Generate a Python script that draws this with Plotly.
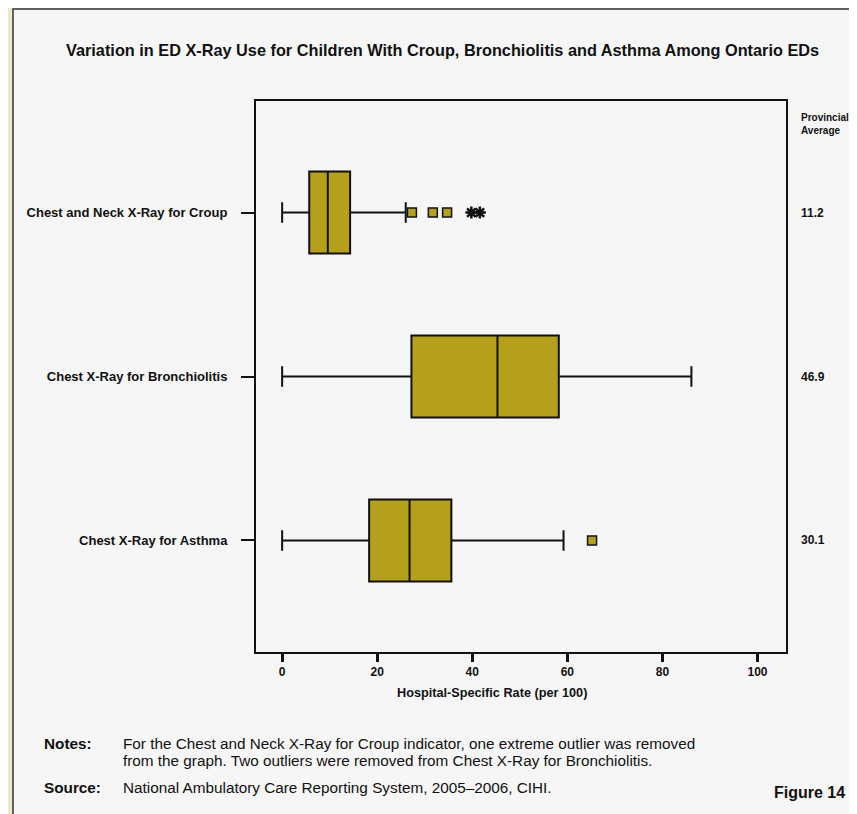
import plotly.graph_objects as go

# ---------------- data ----------------
categories = ["Chest and Neck X-Ray for Croup", "Chest X-Ray for Bronchiolitis", "Chest X-Ray for Asthma"]
lower_whisker = [0.0, 0.0, 0.0]
q1_values = [5.7, 27.2, 18.3]
median_values = [9.6, 45.3, 26.8]
q3_values = [14.3, 58.2, 35.6]
upper_whisker = [26.0, 86.1, 59.2]
provincial_avg = ["11.2", "46.9", "30.1"]

# mild outliers and extreme outliers (stars)
mild_out_cat = ["Chest and Neck X-Ray for Croup", "Chest and Neck X-Ray for Croup",
                "Chest and Neck X-Ray for Croup", "Chest X-Ray for Asthma"]
mild_out_val = [27.3, 31.7, 34.7, 65.2]
extreme_out_cat = ["Chest and Neck X-Ray for Croup", "Chest and Neck X-Ray for Croup"]
extreme_out_val = [39.8, 41.6]

x_ticks = [0, 20, 40, 60, 80, 100]

# ---------------- layout helpers ----------------
OFF = 8                      # page body margin
W, H = 857 - OFF, 814 - OFF
L, R, T, B = 256 - OFF, 786 - OFF, 101 - OFF, 652 - OFF   # plot area in figure pixels
def px(xp):
    return (xp - OFF - L) / (R - L)
def py(yp):
    return (B - (yp - OFF)) / (B - T)

FONT = "Liberation Sans, Arial, sans-serif"
OLIVE = "#b4a01a"
INK = "#111111"

fig = go.Figure()

fig.add_trace(go.Box(
    y=categories,
    q1=q1_values, median=median_values, q3=q3_values,
    lowerfence=lower_whisker, upperfence=upper_whisker,
    orientation="h",
    fillcolor=OLIVE,
    line=dict(color=INK, width=2),
    width=0.5,
    whiskerwidth=0.25,
    boxpoints=False,
    showlegend=False,
    hoverinfo="skip",
))

fig.add_trace(go.Scatter(
    x=mild_out_val, y=mild_out_cat, mode="markers",
    marker=dict(symbol="square", size=9, color=OLIVE, line=dict(color=INK, width=1.5)),
    showlegend=False, hoverinfo="skip",
))
fig.add_trace(go.Scatter(
    x=extreme_out_val, y=extreme_out_cat, mode="markers",
    marker=dict(symbol="asterisk-open", size=10, color=INK, line=dict(color=INK, width=2.5)),
    showlegend=False, hoverinfo="skip",
))

# panel background
shapes = [dict(type="rect", xref="paper", yref="paper",
               x0=px(13), x1=px(900), y0=py(860), y1=py(9),
               fillcolor="#f6f6f6", line=dict(color="#333333", width=1.5), layer="below")]

annotations = []
annotations.append(dict(text="<b>Variation in ED X-Ray Use for Children With Croup, Bronchiolitis and Asthma Among Ontario EDs</b>",
                        xref="paper", yref="paper", x=px(442), y=py(50), xanchor="center", yanchor="middle",
                        showarrow=False, font=dict(family=FONT, size=16.3, color=INK)))
annotations.append(dict(text="<b>Provincial<br>Average</b>", xref="paper", yref="paper",
                        x=px(799), y=py(124), xanchor="left", yanchor="middle", align="left",
                        showarrow=False, font=dict(family=FONT, size=10, color=INK)))
for c, v in zip(categories, provincial_avg):
    annotations.append(dict(text="<b>" + v + "</b>", xref="paper", yref="y", x=px(799), y=c,
                            xanchor="left", yanchor="middle", showarrow=False,
                            font=dict(family=FONT, size=12, color=INK)))
annotations.append(dict(text="<b>Hospital-Specific Rate (per 100)</b>", xref="paper", yref="paper",
                        x=px(492), y=py(693), xanchor="center", yanchor="middle", showarrow=False,
                        font=dict(family=FONT, size=12.7, color=INK)))
note_font = dict(family=FONT, size=15.3, color=INK)
annotations.append(dict(text="<b>Notes:</b>", xref="paper", yref="paper", x=px(42), y=py(743),
                        xanchor="left", yanchor="middle", showarrow=False, font=note_font))
annotations.append(dict(text="For the Chest and Neck X-Ray for Croup indicator, one extreme outlier was removed",
                        xref="paper", yref="paper", x=px(121), y=py(743),
                        xanchor="left", yanchor="middle", showarrow=False, font=note_font))
annotations.append(dict(text="from the graph. Two outliers were removed from Chest X-Ray for Bronchiolitis.",
                        xref="paper", yref="paper", x=px(121), y=py(760),
                        xanchor="left", yanchor="middle", showarrow=False, font=note_font))
annotations.append(dict(text="<b>Source:</b>", xref="paper", yref="paper", x=px(42), y=py(787),
                        xanchor="left", yanchor="middle", showarrow=False, font=note_font))
annotations.append(dict(text="National Ambulatory Care Reporting System, 2005–2006, CIHI.",
                        xref="paper", yref="paper", x=px(121), y=py(787),
                        xanchor="left", yanchor="middle", showarrow=False, font=note_font))
annotations.append(dict(text="<b>Figure 14</b>", xref="paper", yref="paper", x=px(847), y=py(792),
                        xanchor="right", yanchor="middle", showarrow=False,
                        font=dict(family=FONT, size=16, color=INK)))

fig.update_layout(
    width=W, height=H,
    margin=dict(l=L, r=W - R, t=T, b=H - B, pad=0),
    paper_bgcolor="#ece5cf",
    plot_bgcolor="rgba(0,0,0,0)",
    shapes=shapes,
    annotations=annotations,
    showlegend=False,
    font=dict(family=FONT, color=INK),
)
fig.update_xaxes(
    range=[-5.5, 106], tickvals=x_ticks, ticktext=["<b>%d</b>" % t for t in x_ticks],
    showgrid=False, zeroline=False,
    showline=True, mirror=True, linecolor=INK, linewidth=2,
    ticks="outside", ticklen=8, tickwidth=2.5, tickcolor=INK,
    tickfont=dict(family=FONT, size=12, color=INK),
)
fig.update_yaxes(
    type="category", categoryorder="array", categoryarray=categories,
    range=[2.68, -0.68],
    tickvals=categories, ticktext=["<b>" + c + "</b>" for c in categories],
    showgrid=False, zeroline=False,
    showline=True, mirror=True, linecolor=INK, linewidth=2,
    ticks="outside", ticklen=13, tickwidth=2, tickcolor=INK,
    ticklabelstandoff=11,
    tickfont=dict(family=FONT, size=13, color=INK),
)

fig.write_html("out.html")
